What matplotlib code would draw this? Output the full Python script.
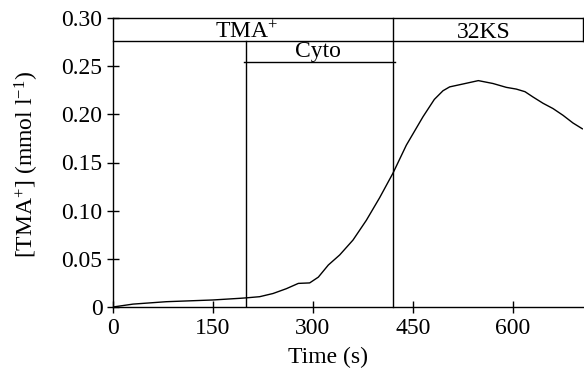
import matplotlib
matplotlib.use("Agg")
import matplotlib.pyplot as plt

plt.rcParams["font.family"] = ["Liberation Serif", "DejaVu Serif"]
plt.rcParams["mathtext.fontset"] = "custom"
plt.rcParams["mathtext.rm"] = "Liberation Serif"
plt.rcParams["mathtext.it"] = "Liberation Serif:italic"

# trace
time_s = [0, 30, 80, 150, 190, 200, 220, 240, 260, 278, 295, 308, 323, 340, 360,
          380, 400, 420, 440, 465, 482, 495, 505, 525, 548, 570, 590, 605, 618,
          630, 645, 660, 675, 690, 704]
tma_conc = [0.0, 0.003, 0.0055, 0.0073, 0.009, 0.0095, 0.0107, 0.014, 0.019,
            0.0245, 0.025, 0.031, 0.0436, 0.054, 0.0695, 0.090, 0.1135, 0.139,
            0.168, 0.1975, 0.2155, 0.2245, 0.2285, 0.2315, 0.235, 0.232, 0.228,
            0.2262, 0.2235, 0.218, 0.2115, 0.206, 0.199, 0.191, 0.185]

x_ticks = [0, 150, 300, 450, 600]
y_ticks = [0, 0.05, 0.10, 0.15, 0.20, 0.25, 0.30]
y_labels = ["0", "0.05", "0.10", "0.15", "0.20", "0.25", "0.30"]

# treatment periods (s)
tma_period = (0, 420)
cyto_period = (200, 420)
ks_period = (420, 705)

fs = 17

fig = plt.figure(figsize=(5.84, 3.71), dpi=100)
ax = fig.add_axes([113 / 584, 1 - 307 / 371, 470 / 584, 289 / 371])

ax.plot(time_s, tma_conc, color="black", lw=1.0)

box_lo, box_hi = 0.276, 0.30
cyto_y = 0.254

# top bars
ax.plot([tma_period[0], ks_period[1]], [box_hi, box_hi], color="black", lw=1.0, clip_on=False)
ax.plot([tma_period[0], ks_period[1]], [box_lo, box_lo], color="black", lw=1.0, clip_on=False)
ax.plot([ks_period[1], ks_period[1]], [box_lo, box_hi], color="black", lw=1.0, clip_on=False)
ax.plot([cyto_period[0] - 3, cyto_period[1] + 3], [cyto_y, cyto_y], color="black", lw=1.0)

# period boundaries
ax.plot([cyto_period[0]] * 2, [0, box_lo], color="black", lw=1.0)
ax.plot([ks_period[0]] * 2, [0, box_hi], color="black", lw=1.0, clip_on=False)

ax.text(200, 0.2796, "TMA$^{+}$", ha="center", va="baseline", fontsize=fs)
ax.text(308, 0.259, "Cyto", ha="center", va="baseline", fontsize=fs)
ax.text(556, 0.279, "32KS", ha="center", va="baseline", fontsize=fs)

ax.set_xlim(0, 705)
ax.set_ylim(0, 0.30)
ax.set_xticks(x_ticks)
ax.set_yticks(y_ticks)
ax.set_yticklabels(y_labels)
ax.tick_params(direction="inout", length=8, width=1.0, labelsize=fs)
ax.tick_params(axis="y", pad=3.5)
ax.tick_params(axis="x", pad=4)

ax.spines["top"].set_visible(False)
ax.spines["right"].set_visible(False)
ax.spines["left"].set_linewidth(1.0)
ax.spines["bottom"].set_linewidth(1.0)

ax.set_xlabel("Time (s)", fontsize=fs)
ax.xaxis.set_label_coords((328 - 113) / 470, -(347 - 307) / 289)
ax.set_ylabel("[TMA$^{+}$] (mmol l$^{-1}$)", fontsize=fs)
ax.yaxis.set_label_coords(-(113 - 41) / 470, (307 - 165) / 289)

fig.savefig("out.png", dpi=100)
